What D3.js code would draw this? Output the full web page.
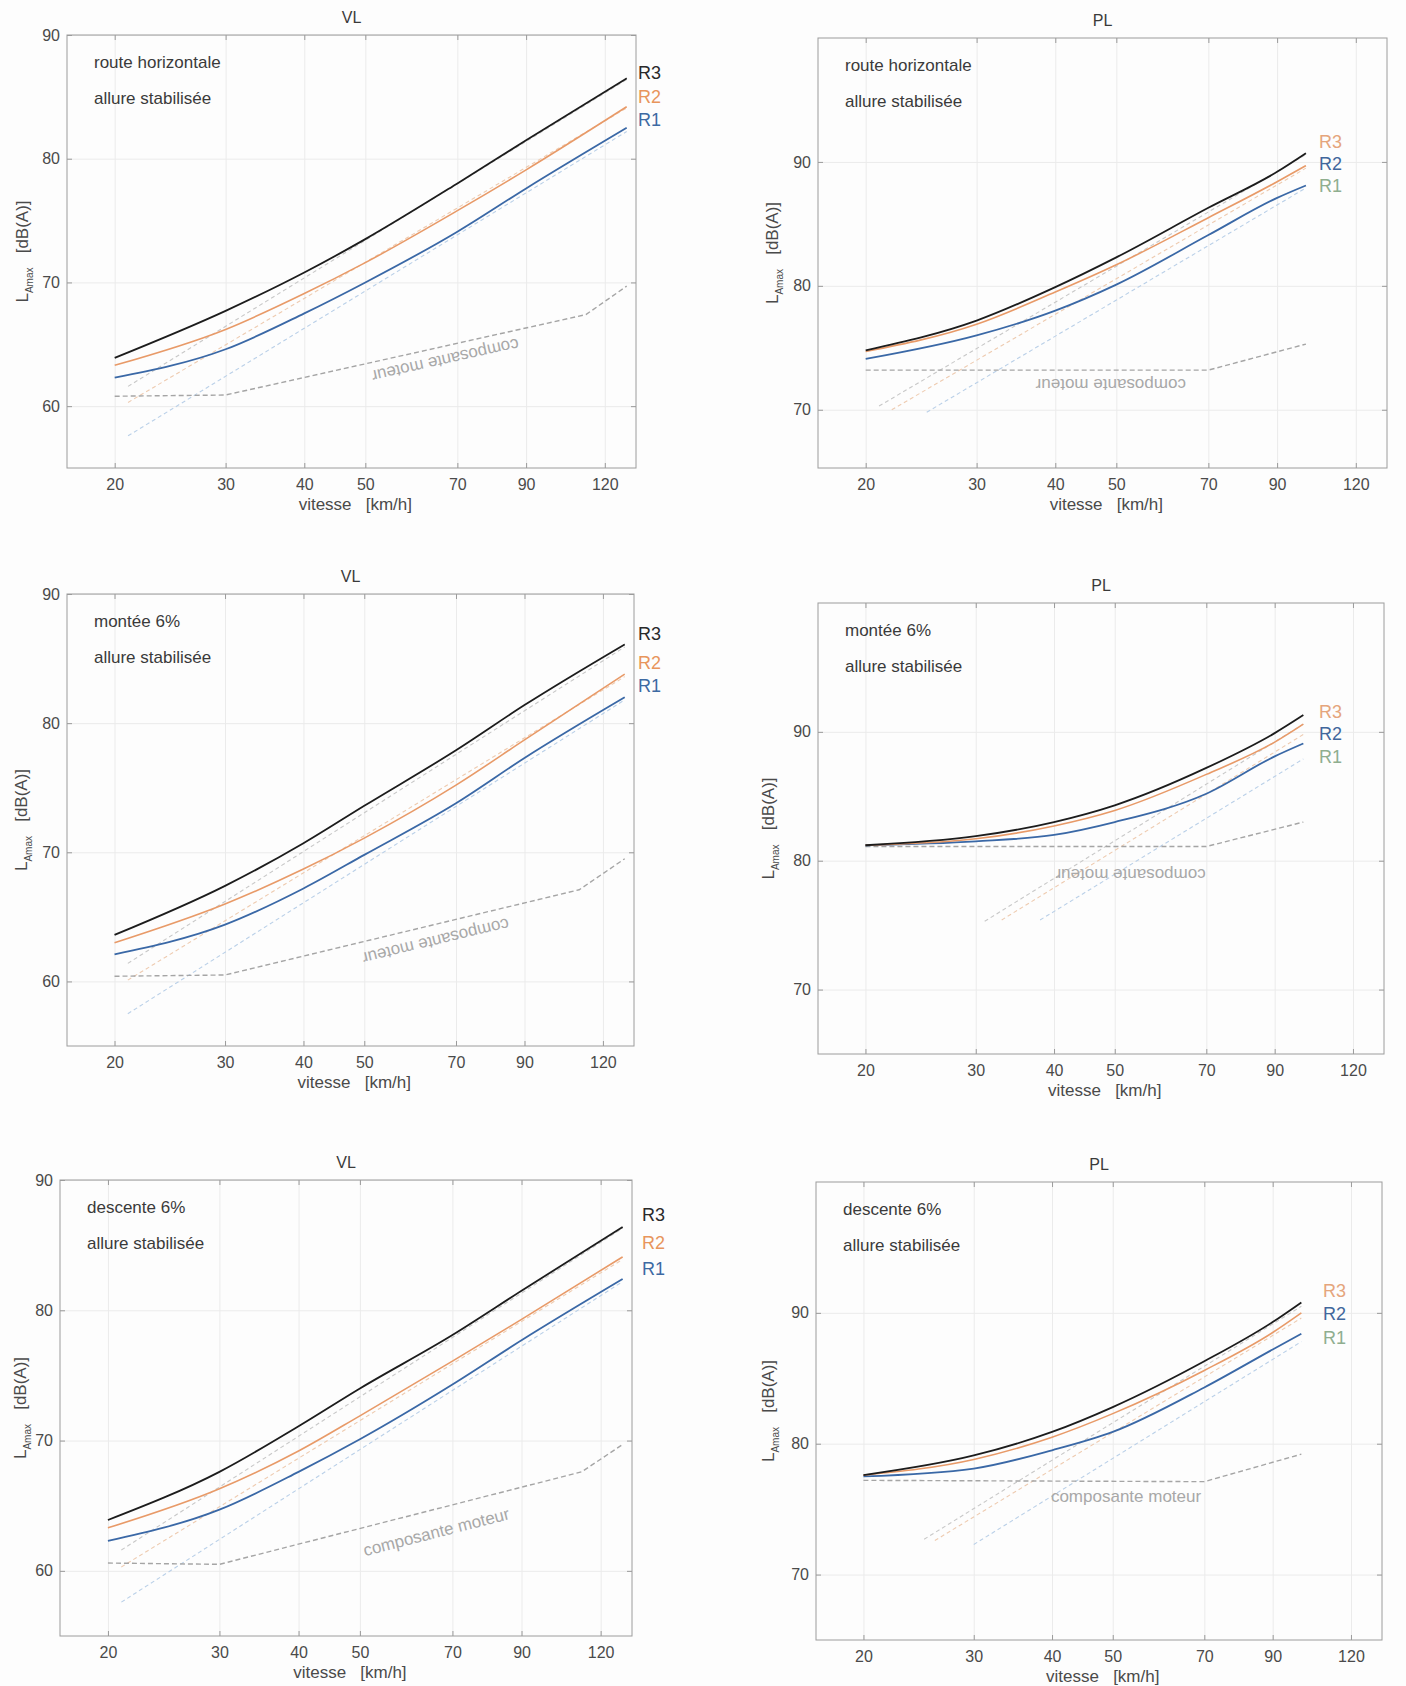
<!DOCTYPE html>
<html><head><meta charset="utf-8">
<script src="https://cdn.jsdelivr.net/npm/d3@7"></script>
<style>
body{margin:0;background:#ffffff;}
svg{display:block;font-family:"Liberation Sans",Arial,sans-serif;}
</style></head><body>
<svg id="c" width="1406" height="1686"></svg>
<script>
// ---------------- DATA ----------------
const speedsVL = [20, 30, 40, 50, 70, 90, 130];
const speedsPL = [20, 30, 40, 50, 70, 90, 100];
const xTickValues = [20, 30, 40, 50, 70, 90, 120];
const yTicksVL = [60, 70, 80, 90];
const yTicksPL = [70, 80, 90];
const seriesNames = ["R3", "R2", "R1"];
const titles = ["VL", "PL", "VL", "PL", "VL", "PL"];
const conditionLabels = ["route horizontale", "route horizontale", "montée 6%", "montée 6%", "descente 6%", "descente 6%"];
const regimeLabel = "allure stabilisée";
const motorLabel = "composante moteur";
const xAxisTitle = "vitesse   [km/h]";

// VL route horizontale
const vlHorizR3 = [63.9, 67.7, 70.8, 73.5, 78.0, 81.5, 86.5];
const vlHorizR2 = [63.3, 66.2, 69.1, 71.6, 75.8, 79.1, 84.2];
const vlHorizR1 = [62.3, 64.6, 67.5, 70.0, 74.1, 77.6, 82.5];
const vlHorizMotorSpeeds = [20, 30, 112, 130];
const vlHorizMotor = [60.8, 60.9, 67.4, 69.7];
const vlRollSpeeds = [21, 130];
const vlHorizRollR3 = [61.6, 86.4];
const vlHorizRollR2 = [60.3, 84.1];
const vlHorizRollR1 = [57.6, 82.2];

// VL montée 6%
const vlUpR3 = [63.6, 67.4, 70.7, 73.6, 77.9, 81.4, 86.1];
const vlUpR2 = [63.0, 66.0, 68.7, 71.1, 75.2, 78.7, 83.8];
const vlUpR1 = [62.1, 64.4, 67.2, 69.8, 73.8, 77.3, 82.0];
const vlUpMotorSpeeds = [20, 30, 110, 130];
const vlUpMotor = [60.4, 60.5, 67.1, 69.5];
const vlUpRollR3 = [61.4, 85.9];
const vlUpRollR2 = [60.1, 83.6];
const vlUpRollR1 = [57.5, 81.8];

// VL descente 6%
const vlDownR3 = [63.9, 67.6, 71.1, 74.0, 78.1, 81.5, 86.4];
const vlDownR2 = [63.3, 66.3, 69.2, 71.9, 76.1, 79.3, 84.1];
const vlDownR1 = [62.3, 64.7, 67.6, 70.1, 74.3, 77.7, 82.4];
const vlDownMotorSpeeds = [20, 30, 112, 130];
const vlDownMotor = [60.6, 60.5, 67.6, 69.7];
const vlDownRollR3 = [61.6, 86.3];
const vlDownRollR2 = [60.3, 83.9];
const vlDownRollR1 = [57.6, 82.2];

// PL route horizontale
const plHorizR3 = [74.8, 77.2, 79.9, 82.3, 86.3, 89.2, 90.7];
const plHorizR2 = [74.7, 76.9, 79.5, 81.7, 85.5, 88.4, 89.7];
const plHorizR1 = [74.1, 76.0, 78.0, 80.1, 84.1, 87.1, 88.1];
const plMotorSpeeds = [20, 70, 100];
const plHorizMotor = [73.2, 73.2, 75.3];
const plHorizRollSpeedsR3 = [21, 100];
const plHorizRollSpeedsR2 = [22, 100];
const plHorizRollSpeedsR1 = [25, 100];
const plHorizRollR3 = [70.3, 90.6];
const plHorizRollR2 = [70.0, 89.5];
const plHorizRollR1 = [69.8, 87.9];

// PL montée 6%
const plUpR3 = [81.2, 81.9, 83.0, 84.3, 87.2, 89.9, 91.3];
const plUpR2 = [81.2, 81.7, 82.7, 83.9, 86.7, 89.2, 90.6];
const plUpR1 = [81.2, 81.5, 82.0, 83.0, 85.2, 88.1, 89.1];
const plUpMotor = [81.1, 81.1, 83.0];
const plUpRollSpeedsR3 = [31, 100];
const plUpRollSpeedsR2 = [33, 100];
const plUpRollSpeedsR1 = [38, 100];
const plUpRollR3 = [75.3, 90.6];
const plUpRollR2 = [75.4, 89.8];
const plUpRollR1 = [75.4, 87.9];

// PL descente 6%
const plDownR3 = [77.6, 79.1, 80.9, 82.8, 86.3, 89.3, 90.8];
const plDownR2 = [77.6, 78.8, 80.5, 82.3, 85.6, 88.5, 90.0];
const plDownR1 = [77.5, 78.1, 79.5, 80.9, 84.3, 87.2, 88.4];
const plDownMotor = [77.2, 77.1, 79.2];
const plDownRollSpeedsR3 = [25, 100];
const plDownRollSpeedsR2 = [26, 100];
const plDownRollSpeedsR1 = [30, 100];
const plDownRollR3 = [72.7, 90.5];
const plDownRollR2 = [72.6, 89.6];
const plDownRollR1 = [72.3, 87.8];

// motor label anchor (speed, level)
const motorLabelAt = [[67, 63.7], [49, 72.0], [65, 63.1], [53, 78.9], [66, 63.0], [52.5, 76.0]];

// ---------------- LAYOUT / STYLE ----------------
const xDomain = [16.8, 134.5];
const lineColors = {R3: "#1c1c1c", R2: "#e89a68", R1: "#3a68a6"};
const rollColors = {R3: "#c8c8c8", R2: "#eecbb0", R1: "#bad0e8"};
const vlLabelColors = {R3: "#2a2a2a", R2: "#e8955c", R1: "#3d6aa3"};
const plLabelColors = {R3: "#e5a57c", R2: "#41679c", R1: "#8fae8f"};

const panels = [
  {x0: 67, x1: 636, y0: 35, y1: 468, yDom: [55, 90], yTicks: yTicksVL, speeds: speedsVL,
   totals: {R3: vlHorizR3, R2: vlHorizR2, R1: vlHorizR1},
   motor: [vlHorizMotorSpeeds, vlHorizMotor],
   roll: {R3: [vlRollSpeeds, vlHorizRollR3], R2: [vlRollSpeeds, vlHorizRollR2], R1: [vlRollSpeeds, vlHorizRollR1]},
   labX: 638, labOff: [38, 62, 85], labColors: vlLabelColors, flip: true, slant: [30, 112], yTitleX: 22},
  {x0: 818, x1: 1387, y0: 38, y1: 468, yDom: [65.3, 100], yTicks: yTicksPL, speeds: speedsPL,
   totals: {R3: plHorizR3, R2: plHorizR2, R1: plHorizR1},
   motor: [plMotorSpeeds, plHorizMotor],
   roll: {R3: [plHorizRollSpeedsR3, plHorizRollR3], R2: [plHorizRollSpeedsR2, plHorizRollR2], R1: [plHorizRollSpeedsR1, plHorizRollR1]},
   labX: 1319, labOff: [104, 126, 148], labColors: plLabelColors, flip: true, slant: null, yTitleX: 772},
  {x0: 67, x1: 634, y0: 594, y1: 1046, yDom: [55, 90], yTicks: yTicksVL, speeds: speedsVL,
   totals: {R3: vlUpR3, R2: vlUpR2, R1: vlUpR1},
   motor: [vlUpMotorSpeeds, vlUpMotor],
   roll: {R3: [vlRollSpeeds, vlUpRollR3], R2: [vlRollSpeeds, vlUpRollR2], R1: [vlRollSpeeds, vlUpRollR1]},
   labX: 638, labOff: [40, 69, 92], labColors: vlLabelColors, flip: true, slant: [30, 110], yTitleX: 21},
  {x0: 818, x1: 1384, y0: 603, y1: 1054, yDom: [65, 100], yTicks: yTicksPL, speeds: speedsPL,
   totals: {R3: plUpR3, R2: plUpR2, R1: plUpR1},
   motor: [plMotorSpeeds, plUpMotor],
   roll: {R3: [plUpRollSpeedsR3, plUpRollR3], R2: [plUpRollSpeedsR2, plUpRollR2], R1: [plUpRollSpeedsR1, plUpRollR1]},
   labX: 1319, labOff: [109, 131, 154], labColors: plLabelColors, flip: true, slant: null, yTitleX: 768},
  {x0: 60, x1: 632, y0: 1180, y1: 1636, yDom: [55, 90], yTicks: yTicksVL, speeds: speedsVL,
   totals: {R3: vlDownR3, R2: vlDownR2, R1: vlDownR1},
   motor: [vlDownMotorSpeeds, vlDownMotor],
   roll: {R3: [vlRollSpeeds, vlDownRollR3], R2: [vlRollSpeeds, vlDownRollR2], R1: [vlRollSpeeds, vlDownRollR1]},
   labX: 642, labOff: [35, 63, 89], labColors: vlLabelColors, flip: false, slant: [30, 112], yTitleX: 20},
  {x0: 816, x1: 1382, y0: 1182, y1: 1640, yDom: [65, 100], yTicks: yTicksPL, speeds: speedsPL,
   totals: {R3: plDownR3, R2: plDownR2, R1: plDownR1},
   motor: [plMotorSpeeds, plDownMotor],
   roll: {R3: [plDownRollSpeedsR3, plDownRollR3], R2: [plDownRollSpeedsR2, plDownRollR2], R1: [plDownRollSpeedsR1, plDownRollR1]},
   labX: 1323, labOff: [109, 132, 156], labColors: plLabelColors, flip: false, slant: null, yTitleX: 768}
];

const svg = d3.select("#c");
svg.append("rect").attr("width", 1406).attr("height", 1686).attr("fill", "#fdfdfd");

panels.forEach((p, i) => {
  const g = svg.append("g");
  const x = d3.scaleLog().domain(xDomain).range([p.x0, p.x1]);
  const y = d3.scaleLinear().domain(p.yDom).range([p.y1, p.y0]);
  const w = p.x1 - p.x0, h = p.y1 - p.y0;

  // grid
  const gx = g.append("g").attr("transform", `translate(0,${p.y1})`)
    .call(d3.axisBottom(x).tickValues(xTickValues).tickFormat("").tickSize(-h));
  gx.select(".domain").remove();
  gx.selectAll("line").attr("stroke", "#ebebeb");
  const gy = g.append("g").attr("transform", `translate(${p.x0},0)`)
    .call(d3.axisLeft(y).tickValues(p.yTicks).tickFormat("").tickSize(-w));
  gy.select(".domain").remove();
  gy.selectAll("line").attr("stroke", "#ebebeb");

  // axes with labels (inward ticks)
  const ax = g.append("g").attr("transform", `translate(0,${p.y1})`)
    .call(d3.axisBottom(x).tickValues(xTickValues).tickFormat(d3.format("d")).tickSize(-5).tickPadding(11));
  ax.select(".domain").remove();
  ax.selectAll("line").attr("stroke", "#9a9a9a");
  ax.selectAll("text").attr("font-size", 16).attr("fill", "#4a4a4a");
  const axTop = g.append("g").attr("transform", `translate(0,${p.y0})`)
    .call(d3.axisTop(x).tickValues(xTickValues).tickFormat("").tickSize(-5));
  axTop.select(".domain").remove();
  axTop.selectAll("line").attr("stroke", "#9a9a9a");
  const ay = g.append("g").attr("transform", `translate(${p.x0},0)`)
    .call(d3.axisLeft(y).tickValues(p.yTicks).tickFormat(d3.format("d")).tickSize(-5).tickPadding(7));
  ay.select(".domain").remove();
  ay.selectAll("line").attr("stroke", "#9a9a9a");
  ay.selectAll("text").attr("font-size", 16).attr("fill", "#4a4a4a");
  const ayR = g.append("g").attr("transform", `translate(${p.x1},0)`)
    .call(d3.axisRight(y).tickValues(p.yTicks).tickFormat("").tickSize(-5));
  ayR.select(".domain").remove();
  ayR.selectAll("line").attr("stroke", "#9a9a9a");

  const line = d3.line().x(d => x(d[0])).y(d => y(d[1])).curve(d3.curveMonotoneX);

  // rolling components
  seriesNames.forEach(s => {
    const [sp, val] = p.roll[s];
    g.append("path").datum(d3.zip(sp, val)).attr("d", line)
      .attr("fill", "none").attr("stroke", rollColors[s]).attr("stroke-width", 1.1)
      .attr("stroke-dasharray", "4,3");
  });
  // motor component
  g.append("path").datum(d3.zip(p.motor[0], p.motor[1])).attr("d", d3.line().x(d => x(d[0])).y(d => y(d[1])))
    .attr("fill", "none").attr("stroke", "#a5a5a5").attr("stroke-width", 1.4)
    .attr("stroke-dasharray", "5,3");

  // totals: R1, R2, R3 (R3 on top)
  ["R1", "R2", "R3"].forEach(s => {
    g.append("path").datum(d3.zip(p.speeds, p.totals[s])).attr("d", line)
      .attr("fill", "none").attr("stroke", lineColors[s])
      .attr("stroke-width", s === "R2" ? 1.6 : 1.8);
  });

  // frame
  g.append("rect").attr("x", p.x0).attr("y", p.y0).attr("width", w).attr("height", h)
    .attr("fill", "none").attr("stroke", "#9c9c9c").attr("stroke-width", 1);

  // motor label
  const [ls, lv] = motorLabelAt[i];
  let ang = 0;
  if (p.slant) {
    const a = p.slant;
    const ia = p.motor[0].indexOf(a[0]), ib = p.motor[0].indexOf(a[1]);
    ang = Math.atan2(y(p.motor[1][ib]) - y(p.motor[1][ia]), x(a[1]) - x(a[0])) * 180 / Math.PI;
  }
  if (p.flip) ang += 180;
  g.append("text").attr("transform", `translate(${x(ls)},${y(lv)}) rotate(${ang})`)
    .attr("text-anchor", "middle").attr("dy", "0.35em")
    .attr("font-size", 17).attr("fill", "#a8a8a8").text(motorLabel);

  // series labels
  seriesNames.forEach((s, k) => {
    g.append("text").attr("x", p.labX).attr("y", p.y0 + p.labOff[k]).attr("dy", "0.35em")
      .attr("font-size", 18).attr("fill", p.labColors[s]).text(s);
  });

  // title
  g.append("text").attr("x", (p.x0 + p.x1) / 2).attr("y", p.y0 - 12)
    .attr("text-anchor", "middle").attr("font-size", 16).attr("fill", "#3a3a3a").text(titles[i]);

  // annotations
  g.append("text").attr("x", p.x0 + 27).attr("y", p.y0 + 33)
    .attr("font-size", 17).attr("fill", "#3a3a3a").text(conditionLabels[i]);
  g.append("text").attr("x", p.x0 + 27).attr("y", p.y0 + 69)
    .attr("font-size", 17).attr("fill", "#3a3a3a").text(regimeLabel);

  // x axis title
  g.append("text").attr("x", x(50) - 10).attr("y", p.y1 + 42)
    .attr("text-anchor", "middle").attr("font-size", 17).attr("fill", "#4a4a4a")
    .style("white-space", "pre").text(xAxisTitle);

  // y axis title
  const yt = g.append("text")
    .attr("transform", `translate(${p.yTitleX + 6},${(p.y0 + p.y1) / 2}) rotate(-90)`)
    .attr("text-anchor", "middle").attr("font-size", 17).attr("fill", "#4a4a4a")
    .style("white-space", "pre");
  yt.append("tspan").text("L");
  yt.append("tspan").attr("font-size", 10).attr("dy", 5).text("Amax");
  yt.append("tspan").attr("dy", -5).text("   [dB(A)]");
});
</script>
</body></html>
